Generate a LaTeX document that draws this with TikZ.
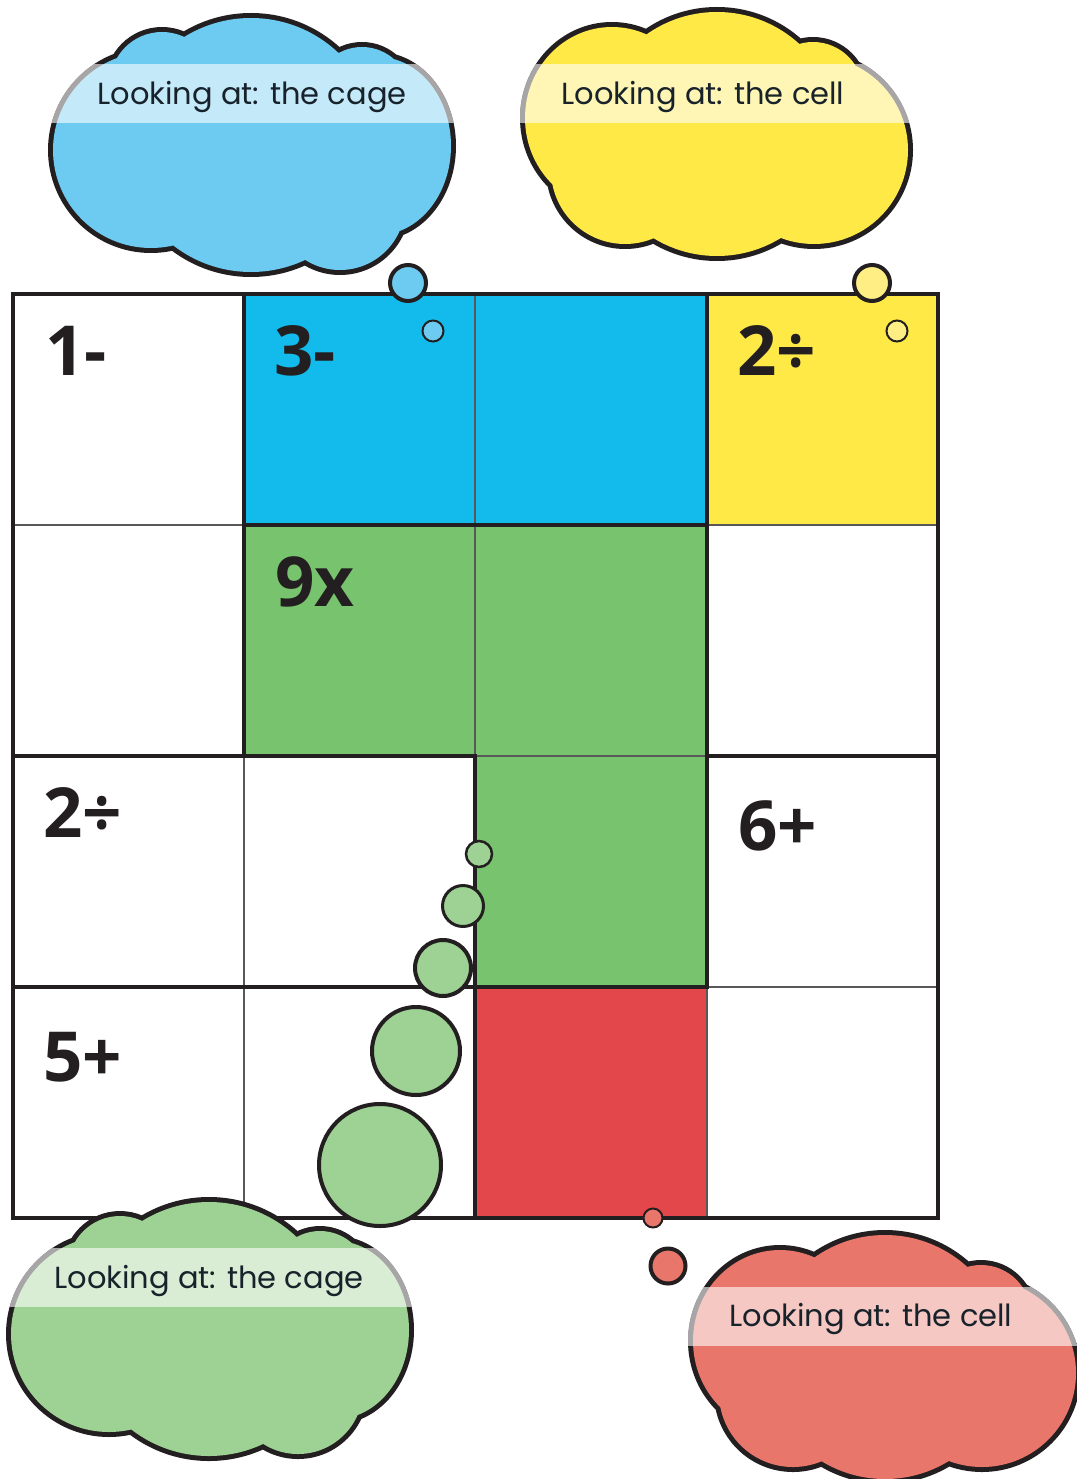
\documentclass[tikz,border=0pt]{standalone}
\usepackage{fontspec}
\setmainfont{Poppins}
\newfontfamily\cagefont{Open Sans}
\usetikzlibrary{calc}

\definecolor{ink}{HTML}{231F20}
\definecolor{textink}{HTML}{17222B}
\definecolor{cageblue}{HTML}{12BBEB}
\definecolor{cloudblue}{HTML}{6DCAF0}
\definecolor{cageyellow}{HTML}{FFE946}
\definecolor{paleyellow}{HTML}{FFEE84}
\definecolor{cagegreen}{HTML}{78C36D}
\definecolor{cloudgreen}{HTML}{9ED294}
\definecolor{cagered}{HTML}{E4474B}
\definecolor{cloudred}{HTML}{E9766A}

% puffs of the two cloud outlines, #1 = extra radius
\newcommand{\puffsA}[1]{%
  (0,0) circle[radius=127+#1]
  (-100,5) circle[radius=98+#1]
  (-89,-61) circle[radius=52+#1]
  (111,-50) circle[radius=48+#1]
  (127,1) ellipse[x radius=73+#1, y radius=89+#1]
  (89,60) circle[radius=65+#1]}
\newcommand{\puffsB}[1]{%
  (0,0) circle[radius=122+#1]
  (-105,-16) ellipse[x radius=87+#1, y radius=91+#1]
  (-92,36) circle[radius=74+#1]
  (97,16) circle[radius=94+#1]
  (96,-42) circle[radius=50+#1]}
\newcommand{\thoughtcloud}[4]{%
  \fill[ink] #1{5};
  \fill[#2] #1{0};
  \begin{scope}
    \clip #1{5};
    \fill[white,opacity=0.6] (-260,#3) rectangle (260,#4);
  \end{scope}}

\tikzset{
  thin grid/.style={draw=ink!75, line width=1.1pt},
  cage/.style={draw=ink, line width=4pt, line cap=rect},
  clue/.style={anchor=base west, inner sep=0pt, text=ink,
    font=\cagefont\bfseries\fontsize{69}{69}\selectfont},
  look/.style={inner sep=0pt, text=textink,
    font=\fontsize{30.5}{30.5}\selectfont},
  bubble/.style={draw=ink, line width=4pt},
  small bubble/.style={draw=ink, line width=2pt}
}

\begin{document}
\begin{tikzpicture}[x=1pt,y=-1pt]
  \useasboundingbox (0,0) rectangle (1076,1479);
  \fill[white] (0,0) rectangle (1076,1479);

  \fill[cageblue] (244,294) rectangle (707,525);
  \fill[cageyellow] (707,294) rectangle (938,525);
  \fill[cagegreen] (244,525) rectangle (707,756);
  \fill[cagegreen] (475,756) rectangle (707,987);
  \fill[cagered] (475,987) rectangle (707,1218);

  \foreach \x in {244,475,707} \draw[thin grid] (\x,294) -- (\x,1218);
  \foreach \y in {525,756,987} \draw[thin grid] (13,\y) -- (938,\y);

  \draw[cage] (13,294) rectangle (938,1218);
  \draw[cage] (244,294) -- (244,756);
  \draw[cage] (475,756) -- (475,1218);
  \draw[cage] (707,294) -- (707,987);
  \draw[cage] (244,525) -- (707,525);
  \draw[cage] (13,756) -- (475,756);
  \draw[cage] (707,756) -- (938,756);
  \draw[cage] (13,987) -- (707,987);

  \node[clue] (c1) at (45,375) {1-};
  \node[clue] (c3) at (274,375) {3-};
  \node[clue] (c2a) at (737,375) {2÷};
  \node[clue] (c9) at (275,606) {9x};
  \node[clue] (c2b) at (43,837) {2÷};
  \node[clue] (c6) at (738,850) {6+};
  \node[clue] (c5) at (43,1081) {5+};

  \draw[small bubble, fill=cloudblue] (433,331) circle[radius=10.5];
  \draw[bubble, fill=cloudblue] (408,283) circle[radius=18];
  \draw[small bubble, fill=paleyellow] (897,331) circle[radius=10.5];
  \draw[bubble, fill=paleyellow] (872,283) circle[radius=18];

  \draw[small bubble, line width=2.5pt, fill=cloudgreen] (479,854) circle[radius=13];
  \draw[bubble, line width=3pt, fill=cloudgreen] (463,906) circle[radius=20.5];
  \draw[bubble, fill=cloudgreen] (443,968) circle[radius=28];
  \draw[bubble, fill=cloudgreen] (416,1051) circle[radius=44];
  \draw[bubble, fill=cloudgreen] (380,1165) circle[radius=61];

  \draw[small bubble, fill=cloudred] (653,1218) circle[radius=9.5];
  \draw[bubble, fill=cloudred] (668,1266) circle[radius=17.5];

  \begin{scope}[shift={(251,145)}]
    \thoughtcloud{\puffsA}{cloudblue}{-81}{-22}
    \node[look] (lookblue) at (1,-48) {Looking at: the cage};
  \end{scope}
  \begin{scope}[shift={(717,134)}]
    \thoughtcloud{\puffsB}{cageyellow}{-70}{-11}
    \node[look] (lookyellow) at (-14,-37) {Looking at: the cell};
  \end{scope}
  \begin{scope}[shift={(209,1329)}]
    \thoughtcloud{\puffsA}{cloudgreen}{-81}{-22}
    \node[look] (lookgreen) at (0,-48) {Looking at: the cage};
  \end{scope}
  \begin{scope}[shift={(885,1357)}]
    \thoughtcloud{\puffsB}{cloudred}{-70}{-11}
    \node[look] (lookred) at (-14,-38) {Looking at: the cell};
  \end{scope}
\end{tikzpicture}
\end{document}
